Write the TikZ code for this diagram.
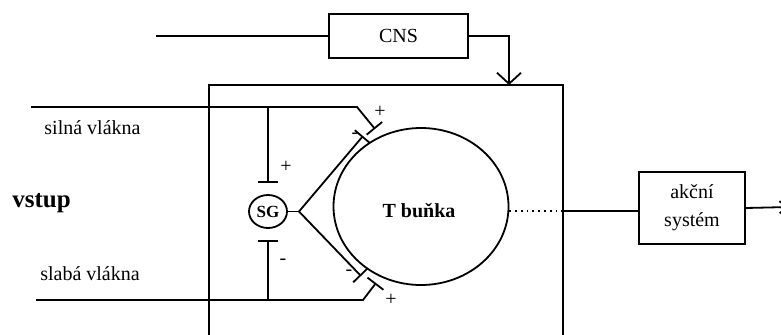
\documentclass[tikz,border=0pt]{standalone}
\usepackage{fontspec}
\setmainfont{Liberation Serif}
\usetikzlibrary{shapes.geometric,arrows.meta,positioning,calc}
\tikzstyle{block} = [rectangle, draw, line width=0.8pt, text centered, inner sep=0pt]
\tikzstyle{bunka} = [ellipse, draw, line width=0.9pt, inner sep=0pt]
\tikzstyle{vlakno} = [line width=0.9pt]
\tikzstyle{synapse} = [vlakno, -{Bar[width=10pt]}]
\tikzstyle{znak} = [inner sep=0pt, font=\fontsize{10}{12}\selectfont]

\begin{document}
\begin{tikzpicture}[x=0.5pt, y=0.5pt]
    \useasboundingbox (0,0) rectangle (781,334);

    % CNS
    \node[block, minimum width=69.5pt, minimum height=22pt] (cns) at (398.5,298) {CNS};
    \coordinate (cnsin) at (156,298);
    \coordinate (cnsout) at (509,249);

    % oblast bunky
    \node[block, minimum width=177pt, minimum height=129.5pt] (cellbox) at (386,119.5) {};
    \node[bunka, minimum width=87.5pt, minimum height=78.5pt] (tcell) at (421,127.5) {};
    \node[font=\bfseries] (tname) at (419,123) {T buňka};
    \node[bunka, minimum width=19pt, minimum height=16.5pt,
          font=\bfseries\fontsize{8.5}{10}\selectfont] (sg) at (268,122.5) {SG};
    \coordinate (fork) at (299,122.5);

    % vstupni vlakna
    \coordinate (silin) at (31,227);
    \coordinate (silbend) at (357,227);
    \coordinate (silsyn) at (375,205);
    \coordinate (slabin) at (36,34);
    \coordinate (slabbend) at (363,34);
    \coordinate (slabsyn) at (376,51);
    \coordinate (minusup) at (363,198);
    \coordinate (minusdn) at (361,58);

    % vystup
    \node[block, minimum width=53pt, minimum height=36pt, align=center,
          font=\fontsize{10}{14}\selectfont] (akcni) at (692,126) {akční\\systém};
    \coordinate (out) at (789,127);

    % popisky
    \node (silna) at (92.5,206) {silná vlákna};
    \node (slaba) at (90,60) {slabá vlákna};
    \node[font=\bfseries\fontsize{12.5}{15}\selectfont] (vstup) at (41.5,131) {vstup};
    \node[znak] (sgplus) at (286,167) {+};
    \node[znak] (sgminus) at (283,72) {-};
    \node[znak] (silplus) at (380,222) {+};
    \node[znak] (silminus) at (355,198) {-};
    \node[znak] (slabminus) at (349,61) {-};
    \node[znak] (slabplus) at (391,34) {+};

    % spojeni
    \draw[vlakno] (cnsin) -- (cns);
    \draw[vlakno, -{Straight Barb[length=5.5pt, width=12pt]}] (cns.east) -| (cnsout);

    \draw[synapse] (silin) -- (silbend) -- (silsyn);
    \draw[synapse] (slabin) -- (slabbend) -- (slabsyn);
    \draw[synapse] (sg |- silin) -- ([yshift=5.5pt]sg.north);
    \draw[synapse] (sg |- slabin) -- ([yshift=-5.5pt]sg.south);

    \draw[vlakno] (sg.east) -- (fork);
    \draw[synapse] (fork) -- (minusup);
    \draw[synapse] (fork) -- (minusdn);

    \draw[vlakno, dotted] (tcell.-3) -- (tcell.-3 -| cellbox.east);
    \draw[vlakno] (tcell.-3 -| cellbox.east) -- (tcell.-3 -| akcni.west);
    \draw[vlakno, -{Straight Barb[length=4pt, width=6pt]}] (akcni.east) -- (out);
\end{tikzpicture}
\end{document}
